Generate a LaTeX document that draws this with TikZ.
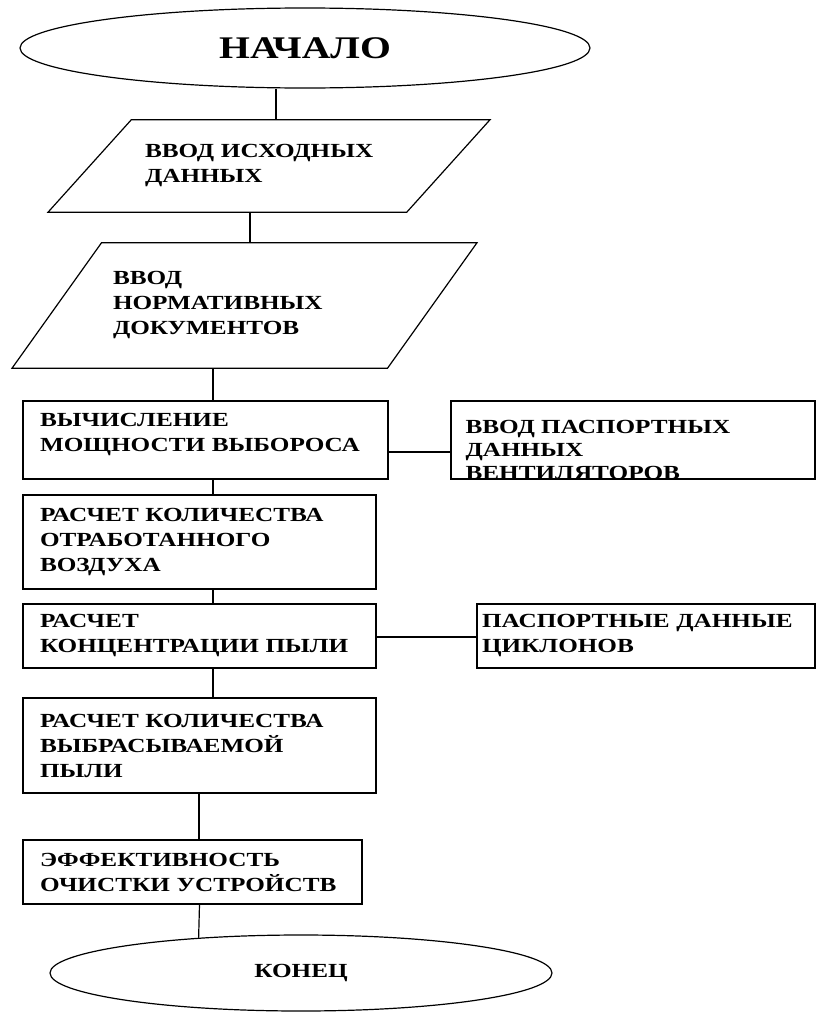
\documentclass[tikz,border=0pt]{standalone}
\usepackage{fontspec}
\setmainfont{Liberation Serif}[FakeStretch=1.26]
\usetikzlibrary{shapes.geometric}

\begin{document}
\begin{tikzpicture}[x=1pt,y=-1pt,line width=1.2pt,
  term/.style={draw,ellipse,inner sep=0pt,font=\bfseries\fontsize{20}{25}\selectfont},
  io/.style={draw,trapezium,trapezium stretches body,inner xsep=0pt,align=left,font=\bfseries\fontsize{20}{25}\selectfont},
  blk/.style={draw,rectangle,inner sep=0pt,align=left,font=\bfseries\fontsize{20}{25}\selectfont}]
  \useasboundingbox (0,0) rectangle (817,1012);
  \node[term,minimum width=570pt,minimum height=80pt,font=\bfseries\fontsize{31.5}{31.5}\selectfont] (start) at (305,48) {НАЧАЛО};
  \node[io,trapezium left angle=48,trapezium right angle=132,minimum width=442pt,inner ysep=25pt,text width=248pt] (init) at (269,166) {ВВОД ИСХОДНЫХ\\ДАННЫХ};
  \node[io,trapezium left angle=54.5,trapezium right angle=125.5,minimum width=465pt,inner ysep=29pt,text width=263pt] (norm) at (244.5,305.5) {ВВОД\\НОРМАТИВНЫХ\\ДОКУМЕНТОВ};
  \node[blk,minimum width=365pt,minimum height=78pt,text width=331pt] (calc) at (205.5,440) {ВЫЧИСЛЕНИЕ\\МОЩНОСТИ ВЫБОРОСА\\[-10pt]\mbox{}};
  \node[blk,minimum width=364pt,minimum height=78pt,path picture={\node[anchor=north west,inner sep=0pt,minimum width=0pt,minimum height=0pt,align=left,font=\bfseries\fontsize{20}{23}\selectfont] at ([xshift=14pt,yshift=-19pt]path picture bounding box.north west) {ВВОД ПАСПОРТНЫХ\\ДАННЫХ\\ВЕНТИЛЯТОРОВ};}] (vent) at (633,440) {};
  \node[blk,minimum width=353pt,minimum height=94pt,text width=319pt] (air) at (199.5,542) {РАСЧЕТ КОЛИЧЕСТВА\\ОТРАБОТАННОГО\\ВОЗДУХА};
  \node[blk,minimum width=353pt,minimum height=64pt,text width=319pt] (conc) at (199.5,636) {РАСЧЕТ\\КОНЦЕНТРАЦИИ ПЫЛИ};
  \node[blk,minimum width=338pt,minimum height=64pt,text width=328pt] (cycl) at (646,636) {ПАСПОРТНЫЕ ДАННЫЕ\\ЦИКЛОНОВ};
  \node[blk,minimum width=353pt,minimum height=95pt,text width=319pt] (dust) at (199.5,745.5) {РАСЧЕТ КОЛИЧЕСТВА\\ВЫБРАСЫВАЕМОЙ\\ПЫЛИ};
  \node[blk,minimum width=339pt,minimum height=64pt,text width=305pt] (eff) at (192.5,872) {ЭФФЕКТИВНОСТЬ\\ОЧИСТКИ УСТРОЙСТВ};
  \node[term,minimum width=502pt,minimum height=76pt] (end) at (301,973) {КОНЕЦ};

  \draw ([xshift=-29pt]start.south) -- ([xshift=-29pt]start.south |- init.north);
  \draw ([xshift=-19pt]init.south) -- ([xshift=-19pt]init.south |- norm.north);
  \draw ([xshift=-31.5pt]norm.south) -- ([xshift=-31.5pt]norm.south |- calc.north);
  \draw ([xshift=7.5pt]calc.south) -- ([xshift=7.5pt]calc.south |- air.north);
  \draw ([yshift=-12pt]calc.east) -- ([yshift=-12pt]calc.east -| vent.west);
  \draw ([xshift=13.5pt]air.south) -- ([xshift=13.5pt]air.south |- conc.north);
  \draw ([yshift=-1pt]conc.east) -- ([yshift=-1pt]conc.east -| cycl.west);
  \draw ([xshift=13.5pt]conc.south) -- ([xshift=13.5pt]conc.south |- dust.north);
  \draw ([xshift=-0.5pt]dust.south) -- ([xshift=-0.5pt]dust.south |- eff.north);
  \draw ([xshift=7pt]eff.south) -- (end.161);
\end{tikzpicture}
\end{document}
